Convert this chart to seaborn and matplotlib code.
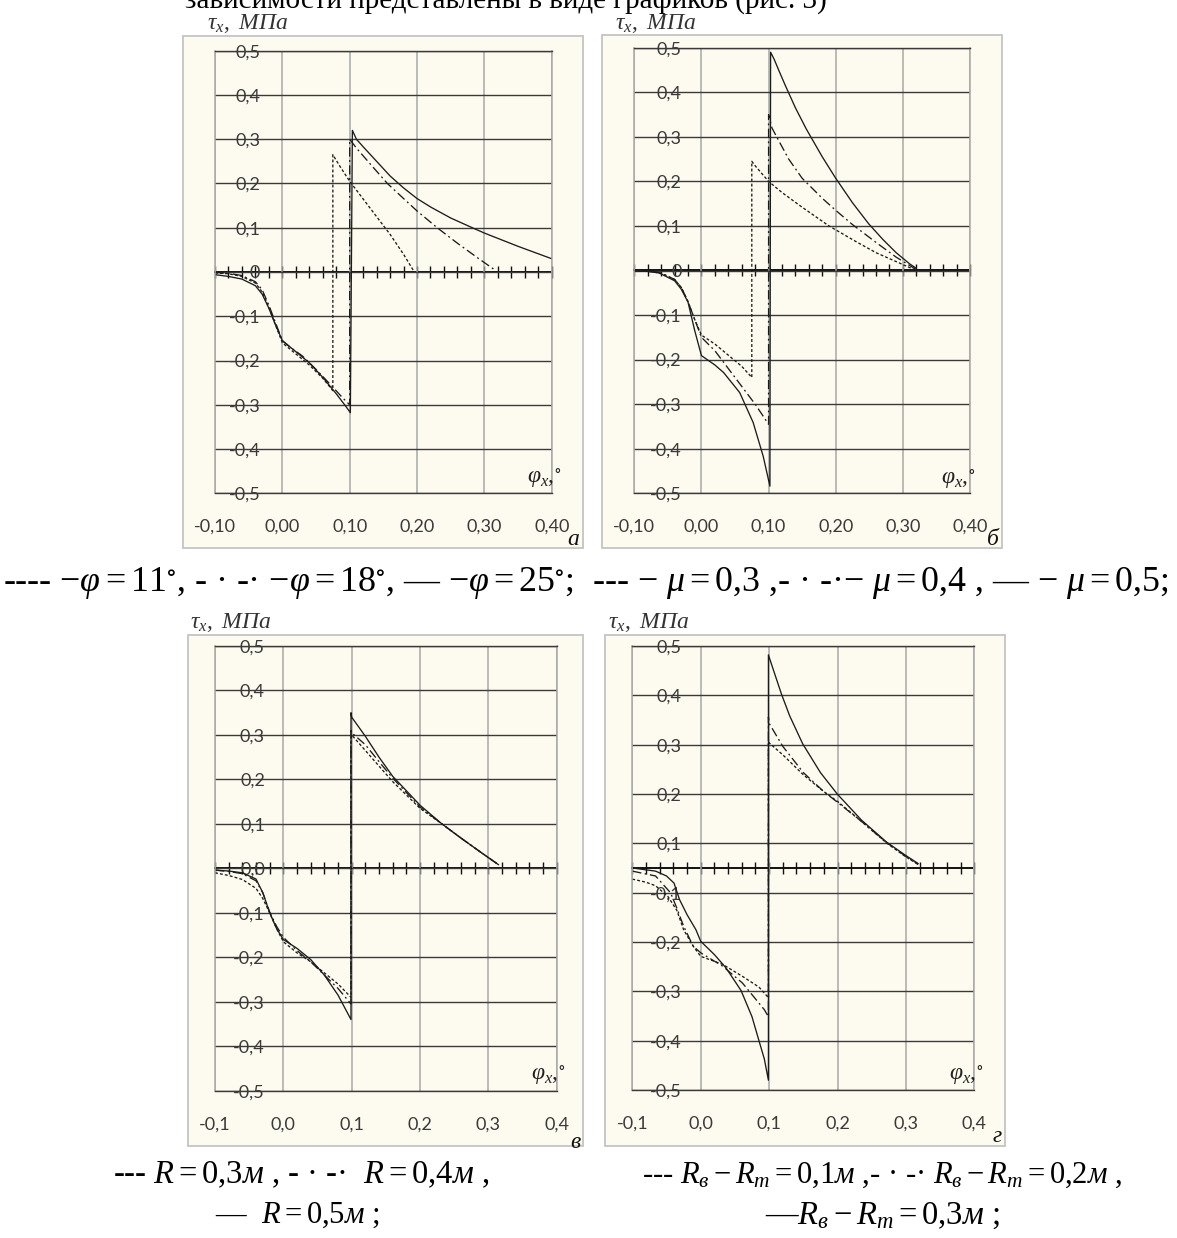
import matplotlib
matplotlib.use("Agg")
import matplotlib.pyplot as plt
import numpy as np
import pandas as pd
import seaborn as sns
from matplotlib.patches import Rectangle
from matplotlib.ticker import FixedLocator, MultipleLocator

# ----------------------------------------------------------------- data
# panel а : friction angle phi = 11, 18, 25 deg
A_DOT_X = [-0.10, -0.08, -0.06, -0.04, -0.03, -0.02, -0.01, 0.00, 0.02, 0.04, 0.06, 0.075,
           0.075, 0.085, 0.10, 0.12, 0.14, 0.16, 0.18, 0.196]
A_DOT_Y = [-0.002, -0.004, -0.010, -0.025, -0.045, -0.080, -0.120, -0.160, -0.185, -0.210, -0.240, -0.268,
           0.265, 0.240, 0.205, 0.165, 0.125, 0.085, 0.040, 0.000]
A_DD_X = [-0.10, -0.08, -0.06, -0.04, -0.03, -0.02, -0.01, 0.00, 0.01, 0.03, 0.05, 0.07, 0.09, 0.10,
          0.10, 0.11, 0.13, 0.156, 0.18, 0.20, 0.23, 0.26, 0.29, 0.317]
A_DD_Y = [-0.001, -0.003, -0.008, -0.022, -0.040, -0.075, -0.115, -0.155, -0.168, -0.190, -0.220, -0.252, -0.285, -0.300,
          0.300, 0.280, 0.245, 0.200, 0.166, 0.138, 0.100, 0.065, 0.032, 0.003]
A_SOL_X = [-0.10, -0.08, -0.06, -0.04, -0.03, -0.02, -0.01, 0.00, 0.02, 0.04, 0.06, 0.08, 0.095, 0.101,
           0.104, 0.11, 0.12, 0.14, 0.16, 0.18, 0.20, 0.22, 0.25, 0.285, 0.30, 0.35, 0.40]
A_SOL_Y = [-0.006, -0.010, -0.016, -0.031, -0.050, -0.082, -0.120, -0.155, -0.180, -0.205, -0.238, -0.275, -0.305, -0.318,
           0.320, 0.300, 0.283, 0.250, 0.217, 0.190, 0.166, 0.147, 0.122, 0.098, 0.088, 0.058, 0.030]

# panel б : friction coefficient mu = 0.3, 0.4, 0.5
B_DOT_X = [-0.10, -0.08, -0.06, -0.04, -0.03, -0.02, -0.01, 0.00, 0.02, 0.04, 0.06, 0.075,
           0.075, 0.08, 0.10, 0.12, 0.15, 0.19, 0.23, 0.26, 0.29, 0.32]
B_DOT_Y = [0.000, -0.002, -0.006, -0.020, -0.038, -0.070, -0.110, -0.145, -0.165, -0.190, -0.215, -0.240,
           0.245, 0.235, 0.200, 0.175, 0.142, 0.100, 0.065, 0.040, 0.020, 0.000]
B_DD_X = [-0.10, -0.08, -0.06, -0.04, -0.03, -0.02, -0.01, 0.00, 0.02, 0.04, 0.06, 0.08, 0.10,
          0.10, 0.105, 0.112, 0.13, 0.15, 0.18, 0.20, 0.225, 0.26, 0.29, 0.32]
B_DD_Y = [0.000, -0.002, -0.006, -0.020, -0.038, -0.070, -0.110, -0.150, -0.180, -0.220, -0.260, -0.300, -0.345,
          0.350, 0.320, 0.300, 0.250, 0.207, 0.162, 0.135, 0.103, 0.063, 0.030, 0.002]
B_SOL_X = [-0.10, -0.08, -0.065, -0.04, -0.03, -0.02, -0.01, 0.00, 0.02, 0.033, 0.057, 0.077, 0.092, 0.102,
           0.103, 0.108, 0.115, 0.125, 0.14, 0.156, 0.18, 0.20, 0.225, 0.249, 0.27, 0.29, 0.31, 0.32]
B_SOL_Y = [0.000, -0.002, -0.004, -0.023, -0.042, -0.071, -0.135, -0.191, -0.212, -0.229, -0.274, -0.341, -0.417, -0.484,
           0.490, 0.475, 0.450, 0.415, 0.365, 0.318, 0.255, 0.207, 0.152, 0.105, 0.070, 0.040, 0.015, 0.005]

# panel в : roll radius R = 0.3, 0.4, 0.5 m
C_DOT_X = [-0.10, -0.08, -0.06, -0.04, -0.03, -0.02, -0.01, 0.00, 0.02, 0.04, 0.06, 0.08, 0.099,
           0.099, 0.10, 0.12, 0.14, 0.16, 0.20, 0.232, 0.26, 0.29, 0.315]
C_DOT_Y = [-0.010, -0.016, -0.025, -0.045, -0.068, -0.100, -0.135, -0.165, -0.190, -0.210, -0.235, -0.260, -0.290,
           0.290, 0.300, 0.265, 0.230, 0.195, 0.135, 0.100, 0.068, 0.035, 0.008]
C_DD_X = [-0.10, -0.08, -0.06, -0.04, -0.03, -0.02, -0.01, 0.00, 0.02, 0.04, 0.06, 0.08, 0.099,
          0.099, 0.10, 0.12, 0.14, 0.16, 0.20, 0.232, 0.26, 0.29, 0.315]
C_DD_Y = [-0.004, -0.007, -0.012, -0.028, -0.055, -0.098, -0.130, -0.155, -0.185, -0.210, -0.240, -0.270, -0.305,
          0.310, 0.305, 0.278, 0.240, 0.203, 0.138, 0.100, 0.068, 0.035, 0.008]
C_SOL_X = [-0.10, -0.08, -0.06, -0.04, -0.03, -0.02, -0.01, 0.00, 0.02, 0.04, 0.06, 0.08, 0.099,
           0.099, 0.10, 0.12, 0.14, 0.16, 0.20, 0.232, 0.26, 0.29, 0.315]
C_SOL_Y = [-0.004, -0.006, -0.010, -0.024, -0.055, -0.100, -0.135, -0.160, -0.180, -0.205, -0.240, -0.285, -0.340,
           0.350, 0.340, 0.297, 0.250, 0.207, 0.142, 0.100, 0.068, 0.035, 0.008]

# panel г : Rв - Rт = 0.1, 0.2, 0.3 m  (values on the drawn, evenly spaced grid)
D_DOT_X = [-0.10, -0.08, -0.066, -0.048, -0.035, -0.025, -0.011, 0.00, 0.032, 0.061, 0.085, 0.099,
           0.099, 0.10, 0.12, 0.15, 0.18, 0.20, 0.235, 0.272, 0.30, 0.318]
D_DOT_Y = [-0.025, -0.032, -0.040, -0.064, -0.095, -0.139, -0.176, -0.199, -0.217, -0.244, -0.268, -0.292,
           0.285, 0.282, 0.255, 0.210, 0.172, 0.150, 0.105, 0.056, 0.025, 0.008]
D_DD_X = [-0.10, -0.066, -0.044, -0.035, -0.025, -0.011, 0.00, 0.032, 0.061, 0.093, 0.099,
          0.099, 0.10, 0.12, 0.15, 0.18, 0.20, 0.235, 0.272, 0.30, 0.318]
D_DD_Y = [-0.007, -0.018, -0.056, -0.090, -0.131, -0.176, -0.191, -0.221, -0.259, -0.319, -0.335,
          0.340, 0.326, 0.274, 0.215, 0.172, 0.148, 0.105, 0.057, 0.026, 0.008]
D_SOL_X = [-0.10, -0.066, -0.05, -0.039, -0.031, -0.02, -0.007, 0.00, 0.02, 0.037, 0.059, 0.075, 0.085, 0.093, 0.099,
           0.099, 0.105, 0.118, 0.13, 0.149, 0.175, 0.20, 0.235, 0.272, 0.30, 0.318]
D_SOL_Y = [0.000, -0.007, -0.018, -0.034, -0.071, -0.105, -0.139, -0.165, -0.195, -0.225, -0.276, -0.335, -0.388, -0.430, -0.478,
           0.480, 0.452, 0.392, 0.343, 0.280, 0.215, 0.166, 0.108, 0.058, 0.028, 0.010]

SERIES = ["dot", "dashdot", "solid"]

X_TICKS = [-0.1, 0.0, 0.1, 0.2, 0.3, 0.4]
X_LABELS_TOP = ["-0,10", "0,00", "0,10", "0,20", "0,30", "0,40"]
X_LABELS_BOT = ["-0,1", "0,0", "0,1", "0,2", "0,3", "0,4"]
Y_TICKS = [0.5, 0.4, 0.3, 0.2, 0.1, 0.0, -0.1, -0.2, -0.3, -0.4, -0.5]
Y_LABELS_TOP = ["0,5", "0,4", "0,3", "0,2", "0,1", "0", "-0,1", "-0,2", "-0,3", "-0,4", "-0,5"]
Y_LABELS_C = ["0,5", "0,4", "0,3", "0,2", "0,1", "0,0", "-0,1", "-0,2", "-0,3", "-0,4", "-0,5"]
Y_LABELS_D = ["0,5", "0,4", "0,3", "0,2", "0,1", "-0,1", "-0,2", "-0,3", "-0,4", "-0,5"]
Y_TICKS_D = [0.5 - i / 9.0 for i in range(10)]

LEG_ROW1 = (r"---- $-\varphi=11^{\circ}$, - · -· $-\varphi=18^{\circ}$, — $-\varphi=25^{\circ}$;  "
            r"--- $-\ \mu=0{,}3$ ,- · -·$-\ \mu=0{,}4$ , — $-\ \mu=0{,}5$;")
LEG_C1 = r"--- $R=0{,}3м$ , - · -·  $R=0{,}4м$ ,"
LEG_C2 = r"—  $R=0{,}5м$ ;"
LEG_D1 = r"--- $R_в-R_т=0{,}1м$ ,- · -· $R_в-R_т=0{,}2м$ ,"
LEG_D2 = r"—$R_в-R_т=0{,}3м$ ;"
TOP_LINE = "зависимости представлены в виде графиков (рис. 3)"
TAU_LABEL = r"$\tau_x,\ МПа$"
PHI_LABEL = r"$\varphi_x$,$^{\circ}$"

# ----------------------------------------------------------------- style
sns.set_theme(style="white")
plt.rcParams["font.family"] = ["Lato", "DejaVu Sans"]
plt.rcParams.update({
    "mathtext.fontset": "custom",
    "mathtext.rm": "Liberation Serif",
    "mathtext.it": "Liberation Serif:italic",
    "mathtext.bf": "Liberation Serif:bold",
    "mathtext.fallback": "stix",
})

W, H = 1177, 1238
CREAM = "#fdfaef"
FRAME_EDGE = "#c4c4c4"
HGRID = "#3a3a3a"
VGRID = "#a8a8a8"
LINE = "#1c1c1c"
TICKTXT = "#3a3a3a"
SERIF = ["Liberation Serif", "DejaVu Serif"]
DASHES = {"dot": (2.2, 1.6), "dashdot": (7.0, 2.6, 1.4, 2.6), "solid": ""}

fig = plt.figure(figsize=(W / 100, H / 100), dpi=100)
fig.patch.set_facecolor("white")


def fx(px):
    return px / W


def fy(py):
    return 1 - py / H


panels = [
    dict(letter="а", axpx=(215.0, 50.7, 551.7, 493.3), frame=(183, 36, 583, 548),
         xs=[A_DOT_X, A_DD_X, A_SOL_X], ys=[A_DOT_Y, A_DD_Y, A_SOL_Y],
         xlab=X_LABELS_TOP, ypos=Y_TICKS, ylab=Y_LABELS_TOP, ypad=-32.5,
         letter_xy=(573, 540), tau_xy=(207, 29), phi=(0.364, -0.467)),
    dict(letter="б", axpx=(634.3, 47.7, 970.0, 493.3), frame=(602, 35, 1002, 548),
         xs=[B_DOT_X, B_DD_X, B_SOL_X], ys=[B_DOT_Y, B_DD_Y, B_SOL_Y],
         xlab=X_LABELS_TOP, ypos=Y_TICKS, ylab=Y_LABELS_TOP, ypad=-34,
         letter_xy=(993, 540), tau_xy=(615, 29), phi=(0.357, -0.47)),
    dict(letter="в", axpx=(215.0, 646.0, 556.7, 1090.7), frame=(188, 635, 583, 1146),
         xs=[C_DOT_X, C_DD_X, C_SOL_X], ys=[C_DOT_Y, C_DD_Y, C_SOL_Y],
         xlab=X_LABELS_BOT, ypos=Y_TICKS, ylab=Y_LABELS_C, ypad=-36,
         letter_xy=(575, 1143), tau_xy=(190, 628), phi=(0.362, -0.467)),
    dict(letter="г", axpx=(632.3, 646.0, 974.3, 1090.0), frame=(605, 635, 1005, 1146),
         xs=[D_DOT_X, D_DD_X, D_SOL_X], ys=[D_DOT_Y, D_DD_Y, D_SOL_Y],
         xlab=X_LABELS_BOT, ypos=Y_TICKS_D, ylab=Y_LABELS_D, ypad=-35.5,
         letter_xy=(997, 1136), tau_xy=(608, 628), phi=(0.363, -0.469)),
]

for p in panels:
    l, t, r, b = p["frame"]
    fig.add_artist(Rectangle((fx(l), fy(b)), (r - l) / W, (b - t) / H, transform=fig.transFigure,
                             facecolor=CREAM, edgecolor=FRAME_EDGE, lw=1.3, zorder=-5))

    al, at, ar, ab = p["axpx"]
    ax = fig.add_axes([fx(al), fy(ab), (ar - al) / W, (ab - at) / H])
    ax.set_facecolor("none")

    df = pd.concat([pd.DataFrame({"x": xs, "y": ys, "series": s})
                    for s, xs, ys in zip(SERIES, p["xs"], p["ys"])], ignore_index=True)
    sns.lineplot(data=df, x="x", y="y", style="series", style_order=SERIES, dashes=DASHES,
                 color=LINE, linewidth=0.95, estimator=None, sort=False, legend=False, ax=ax)

    ax.set_xlim(-0.1, 0.4)
    ax.set_ylim(-0.5, 0.5)
    ax.set_xlabel("")
    ax.set_ylabel("")
    ax.xaxis.set_major_locator(FixedLocator(X_TICKS))
    ax.set_xticklabels(p["xlab"])
    ax.yaxis.set_major_locator(FixedLocator(p["ypos"]))
    ax.set_yticklabels(p["ylab"])
    ax.tick_params(axis="x", length=0, pad=18.5, labelsize=13, labelcolor=TICKTXT)
    ax.tick_params(axis="y", length=0, pad=p["ypad"], labelsize=13, labelcolor=TICKTXT)
    ax.set_axisbelow(True)
    ax.xaxis.grid(True, color=VGRID, lw=1.1)
    ax.yaxis.grid(True, color=HGRID, lw=1.0)
    for side in ("left", "right"):
        ax.spines[side].set_color(VGRID)
        ax.spines[side].set_linewidth(1.1)
    for side in ("top", "bottom"):
        ax.spines[side].set_color(HGRID)
        ax.spines[side].set_linewidth(1.0)

    # zero axis with crossing ticks every 0.02
    sec = ax.secondary_xaxis(0.5)
    sec.xaxis.set_major_locator(MultipleLocator(0.02))
    sec.tick_params(axis="x", which="both", direction="inout", length=8, width=1.0,
                    color="#111111", labeltop=False, labelbottom=False)
    for sp in sec.spines.values():
        sp.set_color("#111111")
        sp.set_linewidth(1.4)

    ax.text(p["phi"][0], p["phi"][1], PHI_LABEL, ha="left", va="center", fontsize=17,
            family=SERIF, color="#222222")

    fig.text(fx(p["tau_xy"][0]), fy(p["tau_xy"][1]), TAU_LABEL, ha="left", va="baseline",
             fontsize=17, family=SERIF, color="#333333")
    fig.text(fx(p["letter_xy"][0]), fy(p["letter_xy"][1]), p["letter"], ha="center", va="center",
             fontsize=17, family=SERIF, style="italic", color="#111111")

# legends and cropped text line
renderer = fig.canvas.get_renderer()


def fitted(x0, yc, s, width, size=18, va="center"):
    t = fig.text(fx(x0), fy(yc), s, ha="left", va=va, fontsize=size, family=SERIF, color="black")
    bb = t.get_window_extent(renderer)
    t.set_fontsize(size * width / bb.width)
    return t


fitted(3, 583, LEG_ROW1, 1167)
fitted(113, 1175, LEG_C1, 377)
fitted(215, 1215, LEG_C2, 165)
fitted(642, 1175, LEG_D1, 480)
fitted(765, 1216, LEG_D2, 235)

# the bottom edge of a paragraph line, cut by the upper border as in the source page
fig.text(fx(185), fy(8), TOP_LINE, ha="left", va="baseline", fontsize=21,
         family=SERIF, color="black")

fig.savefig("out.png", dpi=100, facecolor="white")
